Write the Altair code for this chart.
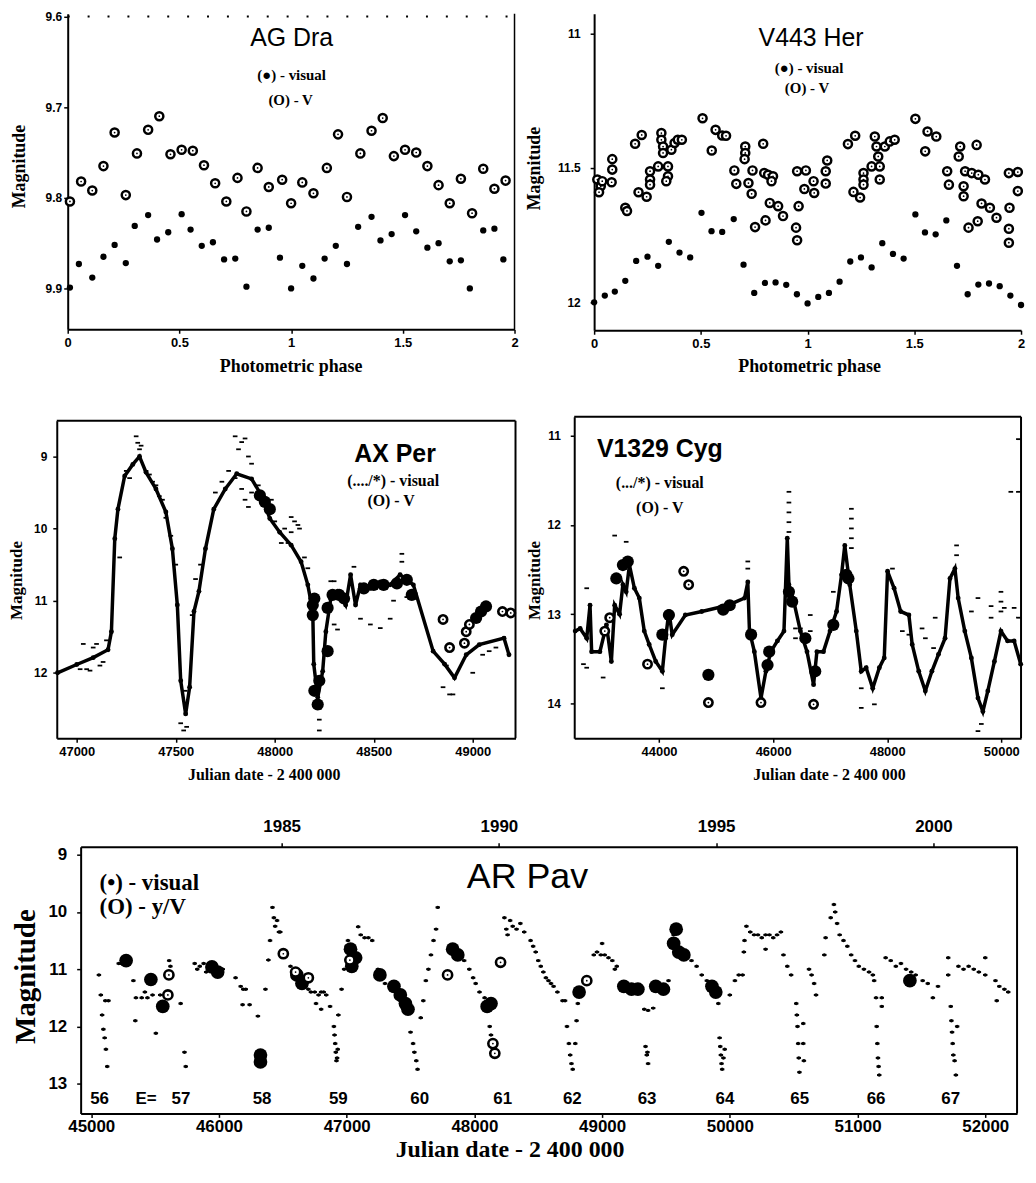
import altair as alt
import pandas as pd

BLACK = "#000000"
SANS = "Liberation Sans"
SERIF = "Liberation Serif"

# ======================= AG Dra (phase diagram) =======================
agdra_v_phase = [0.01, 0.06, 0.11, 0.16, 0.21, 0.26, 0.31, 0.36, 0.41, 0.46, 0.51, 0.56, 0.61, 0.66, 0.71, 0.76, 0.80, 0.85, 0.90, 0.96,
                 1.00, 1.05, 1.10, 1.16, 1.21, 1.25, 1.31, 1.36, 1.41, 1.46, 1.51, 1.56, 1.61, 1.66, 1.71, 1.76, 1.81, 1.86, 1.91, 1.96]
agdra_v_mag = [9.804, 9.782, 9.792, 9.765, 9.728, 9.797, 9.751, 9.725, 9.710, 9.752, 9.747, 9.748, 9.764, 9.784, 9.804, 9.778, 9.815, 9.767, 9.788, 9.780,
               9.806, 9.783, 9.795, 9.767, 9.730, 9.799, 9.751, 9.726, 9.712, 9.754, 9.747, 9.750, 9.765, 9.786, 9.806, 9.779, 9.817, 9.768, 9.790, 9.781]
agdra_vis_phase = [0.01, 0.05, 0.11, 0.16, 0.21, 0.26, 0.30, 0.36, 0.40, 0.45, 0.51, 0.55, 0.60, 0.65, 0.70, 0.75, 0.80, 0.85, 0.90, 0.95,
                   1.00, 1.05, 1.10, 1.15, 1.20, 1.25, 1.30, 1.36, 1.40, 1.45, 1.51, 1.56, 1.61, 1.66, 1.71, 1.76, 1.80, 1.86, 1.91, 1.95]
agdra_vis_mag = [9.899, 9.873, 9.888, 9.865, 9.852, 9.872, 9.831, 9.819, 9.846, 9.838, 9.818, 9.835, 9.853, 9.849, 9.868, 9.867, 9.898, 9.835, 9.833, 9.866,
                 9.900, 9.875, 9.889, 9.867, 9.853, 9.873, 9.832, 9.821, 9.847, 9.840, 9.819, 9.837, 9.855, 9.850, 9.870, 9.869, 9.900, 9.836, 9.834, 9.868]

# ======================= V443 Her (phase diagram) =======================
v443_v = [(0.015, 11.543), (0.031, 11.568), (0.023, 11.590), (0.038, 11.549), (0.085, 11.467), (0.085, 11.506), (0.082, 11.553),
          (0.146, 11.648), (0.154, 11.660), (0.192, 11.410), (0.223, 11.377), (0.208, 11.590), (0.246, 11.607), (0.262, 11.512),
          (0.262, 11.543), (0.262, 11.562), (0.300, 11.494), (0.315, 11.370), (0.315, 11.395), (0.323, 11.420), (0.323, 11.444),
          (0.346, 11.494), (0.346, 11.531), (0.338, 11.549), (0.362, 11.432), (0.377, 11.407), (0.392, 11.395), (0.411, 11.395),
          (0.508, 11.315), (0.551, 11.435), (0.569, 11.358), (0.600, 11.379), (0.618, 11.380), (0.657, 11.509), (0.666, 11.559),
          (0.708, 11.420), (0.708, 11.444), (0.705, 11.467), (0.723, 11.556), (0.742, 11.509), (0.738, 11.596), (0.754, 11.720),
          (0.792, 11.410), (0.797, 11.519), (0.815, 11.525), (0.838, 11.531), (0.803, 11.695), (0.823, 11.630), (0.862, 11.642),
          (0.885, 11.679), (0.831, 11.549), (0.951, 11.512), (0.992, 11.509), (0.958, 11.642), (0.946, 11.722), (0.951, 11.769),
          (0.985, 11.578), (1.031, 11.593), (1.028, 11.549), (1.085, 11.558), (1.085, 11.512), (1.092, 11.472),
          (1.189, 11.411), (1.223, 11.380), (1.215, 11.589), (1.246, 11.610), (1.262, 11.519), (1.262, 11.543), (1.262, 11.562),
          (1.300, 11.494), (1.315, 11.383), (1.323, 11.420), (1.331, 11.457), (1.338, 11.494), (1.338, 11.543), (1.362, 11.420),
          (1.385, 11.401), (1.408, 11.395), (1.505, 11.317), (1.551, 11.438), (1.562, 11.364), (1.603, 11.383), (1.654, 11.512),
          (1.662, 11.562), (1.715, 11.420), (1.708, 11.457), (1.738, 11.512), (1.731, 11.568), (1.731, 11.605), (1.754, 11.722),
          (1.792, 11.414), (1.769, 11.519), (1.800, 11.525), (1.831, 11.543), (1.815, 11.632), (1.854, 11.648), (1.797, 11.698),
          (1.885, 11.685), (1.943, 11.519), (1.985, 11.515), (1.985, 11.586), (1.946, 11.648), (1.943, 11.726), (1.943, 11.778)]
v443_vis = [(0.0, 12.0), (0.05, 11.975), (0.097, 11.96), (0.146, 11.92), (0.197, 11.846), (0.25, 11.83), (0.30, 11.864),
            (0.35, 11.775), (0.40, 11.815), (0.45, 11.833), (0.503, 11.667), (0.55, 11.735), (0.60, 11.738), (0.654, 11.69),
            (0.70, 11.86), (0.75, 11.965), (0.80, 11.928), (0.85, 11.926), (0.90, 11.935), (0.95, 11.97), (1.0, 12.004),
            (1.05, 11.98), (1.10, 11.965), (1.15, 11.923), (1.20, 11.848), (1.25, 11.833), (1.30, 11.87), (1.35, 11.78),
            (1.40, 11.82), (1.45, 11.837), (1.505, 11.673), (1.55, 11.74), (1.60, 11.747), (1.65, 11.695), (1.70, 11.864),
            (1.75, 11.97), (1.80, 11.934), (1.85, 11.93), (1.90, 11.94), (1.95, 11.975), (2.0, 12.01)]

# ======================= AX Per =======================
axper_line_jd = [46903, 47000, 47083, 47158, 47175, 47192, 47208, 47242, 47283, 47317, 47350, 47400, 47450, 47483, 47508, 47525,
                 47550, 47570, 47592, 47617, 47650, 47692, 47750, 47808, 47883, 47933, 47975, 48025, 48083, 48133, 48167, 48192,
                 48197, 48217, 48242, 48258, 48283, 48317, 48358, 48383, 48408, 48433, 48483, 48533, 48583, 48633, 48700, 48800,
                 48858, 48908, 48967, 49033, 49158, 49183]
axper_line_mag = [12.0, 11.885, 11.79, 11.68, 11.43, 10.14, 9.73, 9.27, 9.11, 9.0, 9.22, 9.45, 9.77, 10.28, 11.06, 12.11,
                  12.57, 12.2, 11.15, 10.87, 10.28, 9.73, 9.45, 9.24, 9.31, 9.54, 9.86, 10.05, 10.23, 10.46, 10.78, 11.15,
                  11.88, 12.34, 11.98, 11.43, 10.97, 10.87, 11.06, 10.64, 11.06, 10.78, 10.83, 10.74, 10.78, 10.64, 10.78, 11.70,
                  11.88, 12.07, 11.75, 11.61, 11.52, 11.75]
axper_vis = [(47017, 11.95), (47033, 11.6), (47050, 11.95), (47067, 11.97), (47083, 11.65), (47100, 11.6), (47117, 11.9),
             (47133, 11.85), (47150, 11.55), (47217, 10.4), (47250, 9.2), (47267, 9.3), (47300, 8.72), (47308, 8.81),
             (47317, 8.9), (47325, 8.85), (47350, 9.2), (47367, 9.25), (47383, 9.35), (47400, 9.4), (47417, 9.55),
             (47433, 9.6), (47450, 9.85), (47475, 10.1), (47500, 10.5), (47525, 12.7), (47540, 12.8), (47555, 12.75),
             (47548, 12.25), (47600, 10.7), (47583, 11.2), (47625, 10.5), (47700, 9.5), (47733, 9.35), (47767, 9.2),
             (47800, 8.72), (47817, 8.9), (47833, 8.8), (47850, 8.75), (47867, 9.0), (47883, 9.1), (47800, 9.3),
             (47833, 9.45), (47850, 9.6), (47867, 9.7), (47883, 9.5), (47917, 9.4), (47983, 9.6), (47983, 9.77),
             (48000, 9.9), (48050, 10.0), (48083, 9.84), (48100, 9.9), (48117, 9.95), (48125, 10.0), (48083, 10.05),
             (48033, 10.2), (48067, 10.2), (48150, 10.4), (48167, 10.55), (48225, 12.5), (48225, 12.65), (48225, 12.8),
             (48283, 10.73), (48300, 10.73), (48300, 11.33), (48317, 11.4), (48400, 10.53), (48433, 11.25), (48483, 11.33),
             (48533, 11.38), (48583, 11.25), (48642, 10.35), (48642, 10.46), (48600, 11.0), (48667, 10.95), (48850, 12.2),
             (48883, 12.3), (48900, 12.3), (48867, 11.9), (49050, 11.75), (49083, 11.7), (49000, 12.0), (49117, 11.65)]
axper_v_blob = [(47925, 9.54), (47950, 9.63), (47975, 9.73), (48192, 11.06), (48192, 11.2), (48200, 10.97), (48200, 12.25),
                (48217, 12.44), (48225, 12.11), (48267, 11.70), (48267, 11.1), (48292, 10.92), (48325, 10.92), (48350, 10.97),
                (48450, 10.83), (48500, 10.78), (48550, 10.78), (48617, 10.76), (48667, 10.71), (48692, 10.92),
                (49017, 11.24), (49042, 11.15), (49067, 11.08)]
axper_v_open = [(48850, 11.26), (48883, 11.65), (48958, 11.59), (48967, 11.43), (48983, 11.33), (49150, 11.15), (49192, 11.17)]

# ======================= V1329 Cyg =======================
v1329_line_jd = [42530, 42617, 42732, 42790, 42818, 42963, 43078, 43164, 43222, 43308,
                 43366, 43424, 43481, 43568, 43654, 43741, 43827, 43942, 44058, 44115,
                 44173, 44231, 44461, 44749, 45210, 45499, 45556, 45585, 45671, 45787,
                 45873, 45960, 46075, 46190, 46248, 46277, 46363, 46478, 46594, 46709,
                 46767, 46882, 46997, 47112, 47199, 47256, 47343, 47458, 47545, 47631,
                 47746, 47862, 47948, 48006, 48121, 48236, 48380, 48438, 48553, 48668,
                 48783, 48899, 49014, 49100, 49187, 49244, 49360, 49475, 49591, 49677,
                 49764, 49879, 49994, 50110, 50225, 50340]
v1329_line_mag = [13.19, 13.16, 13.27, 12.9, 13.42, 13.42, 13.12, 13.53, 12.90, 13.0,
                  12.67, 12.75, 12.45, 12.71, 12.82, 13.19, 13.34, 13.53, 13.64, 13.27,
                  12.97, 13.23, 13.01, 12.97, 12.9, 12.82, 12.64, 13.19, 13.42, 13.94,
                  13.64, 13.42, 13.30, 13.19, 12.15, 12.67, 12.86, 13.19, 13.42, 13.79,
                  13.42, 13.42, 13.19, 12.97, 12.56, 12.23, 12.67, 13.19, 13.64, 13.60,
                  13.83, 13.60, 13.49, 12.52, 12.71, 12.97, 13.01, 13.34, 13.64, 13.86,
                  13.64, 13.45, 13.27, 12.60, 12.49, 12.82, 13.19, 13.49, 13.94, 14.09,
                  13.86, 13.53, 13.19, 13.30, 13.30, 13.56]
v1329_vis = [(46277, 11.63), (46277, 11.75), (46277, 11.86), (46277, 11.97), (46277, 12.08),
             (47372, 11.82), (47372, 11.93), (47372, 12.04), (47372, 12.15), (47372, 12.26),
             (49216, 12.23), (49216, 12.34), (45556, 12.41), (45556, 12.49), (42732, 12.71),
             (49994, 12.75), (49994, 12.86), (49994, 12.97), (49591, 14.31), (49650, 14.23),
             (50052, 12.93), (50225, 12.93), (50300, 13.04), (50300, 11.63), (50167, 11.63), (50300, 11.04),
             (46392, 13.16), (46392, 13.27), (46478, 13.16), (46651, 13.01), (46651, 13.19), (47055, 12.75),
             (48841, 13.04), (48813, 13.38), (49476, 12.97), (49591, 12.82), (48611, 13.16), (48669, 13.27),
             (47545, 13.83), (47545, 14.05), (47775, 14.01), (44058, 13.83), (43020, 13.71), (42675, 13.56),
             (42732, 13.60), (43424, 12.19), (43222, 12.12), (49821, 12.91), (49821, 13.04), (48265, 13.19),
             (48380, 13.23), (48092, 12.49)]
v1329_v_blob = [(43251, 12.60), (43366, 12.45), (43452, 12.41), (44058, 13.23), (44173, 13.01), (45124, 12.95),
                (45239, 12.90), (45614, 13.23), (45902, 13.57), (45931, 13.42), (46277, 12.75), (46334, 12.86),
                (46565, 13.27), (46738, 13.64), (47055, 13.12), (47285, 12.56), (47320, 12.60), (44865, 13.68)]
v1329_v_open = [(44432, 12.52), (44519, 12.67), (43798, 13.56), (44865, 13.99), (45787, 13.99), (46709, 14.01),
                (43049, 13.19), (43135, 13.04)]

# ======================= AR Pav =======================
arpav_vis = [(45060, 11.1), (45075, 11.45), (45085, 11.8), (45095, 12.05), (45105, 12.2), (45115, 12.4), (45125, 12.7),
             (45135, 11.55), (45110, 11.55), (45215, 10.9), (45235, 10.9), (45255, 10.85), (45330, 11.2), (45350, 11.5),
             (45345, 11.9), (45395, 11.5), (45420, 11.4), (45440, 11.5), (45506, 12.12), (45480, 11.45), (45540, 11.45),
             (45610, 10.85), (45620, 10.95), (45700, 11.6), (45730, 12.45), (45740, 12.7),
             (45810, 10.9), (45830, 11.0), (45850, 10.95), (45880, 10.9), (45900, 11.05), (45920, 10.95), (46010, 11.1),
             (46030, 11.0), (46130, 11.15), (46170, 11.3), (46190, 11.35), (46210, 11.35), (46185, 11.62), (46240, 11.62),
             (46305, 11.82), (46364, 11.35), (46387, 10.84), (46400, 10.5), (46419, 9.92), (46430, 10.1), (46440, 10.25),
             (46455, 10.15), (46470, 10.35), (46480, 10.35), (46560, 10.95), (46590, 11.0), (46620, 11.1), (46650, 11.2),
             (46680, 11.3), (46700, 11.35), (46720, 11.4), (46750, 11.4), (46780, 11.45), (46800, 11.4), (46820, 11.4),
             (46840, 11.45), (46760, 11.6), (46800, 11.7), (46870, 11.65), (46900, 12.0), (46905, 12.15), (46910, 12.3),
             (46915, 12.45), (46920, 12.6), (46925, 12.55), (46930, 12.4), (46935, 11.8), (46960, 11.35), (46980, 11.0),
             (47000, 10.6), (47010, 10.5), (47090, 10.26), (47110, 10.4), (47140, 10.45), (47170, 10.45), (47200, 10.5),
             (47245, 11.0), (47265, 11.15), (47300, 11.25), (47350, 11.3), (47400, 11.45), (47420, 11.55), (47450, 11.6),
             (47500, 12.1), (47520, 12.3), (47530, 12.45), (47545, 12.6), (47555, 12.75), (47580, 11.85), (47600, 11.55),
             (47620, 11.2), (47640, 11.0), (47660, 10.75), (47680, 10.5), (47700, 10.3), (47713, 9.92), (47920, 10.85),
             (47960, 11.0), (47990, 11.15), (48010, 11.25), (48040, 11.4), (48080, 11.5), (48120, 12.0), (48130, 12.15),
             (48140, 12.3), (48235, 10.1), (48250, 10.3), (48260, 10.4), (48280, 10.15), (48300, 10.25), (48330, 10.3),
             (48360, 10.2), (48390, 10.35), (48440, 10.5), (48460, 10.6), (48480, 10.7), (48500, 10.85), (48520, 10.95),
             (48540, 11.05), (48560, 11.15), (48580, 11.2), (48600, 11.25), (48620, 11.3), (48650, 11.4), (48690, 11.55),
             (48710, 11.55), (48725, 12.0), (48740, 12.3), (48750, 12.5), (48760, 12.65), (48770, 12.75), (48790, 12.3),
             (48800, 11.9), (48810, 11.6), (48935, 10.75), (48960, 10.7), (48990, 10.75), (49020, 10.75), (49050, 10.8),
             (49080, 10.85), (49000, 10.55), (49100, 11.0), (49115, 10.95), (49160, 11.25), (49200, 11.3), (49240, 11.35),
             (49280, 11.3), (49330, 11.7), (49360, 11.72), (49400, 11.68), (49340, 12.35), (49350, 12.5), (49360, 12.65),
             (49355, 12.45), (49400, 11.3), (49440, 11.35), (49480, 11.3), (49520, 11.2), (49540, 10.6), (49560, 10.4),
             (49660, 10.7), (49700, 10.85), (49740, 10.95), (49780, 11.1), (49820, 11.2), (49860, 11.3), (49900, 11.45),
             (49910, 11.6), (49920, 12.2), (49925, 12.35), (49930, 12.5), (49935, 12.65), (49940, 12.75), (49950, 12.55),
             (49960, 12.4), (50000, 11.45), (50040, 11.2), (50070, 11.1), (50100, 11.1), (50110, 10.7), (50115, 10.5),
             (50130, 10.25), (50160, 10.35), (50190, 10.4), (50220, 10.4), (50250, 10.45), (50280, 10.4), (50310, 10.4),
             (50340, 10.45), (50370, 10.4), (50400, 10.35), (50280, 10.65), (50420, 10.75), (50450, 10.95), (50480, 11.1),
             (50520, 11.6), (50525, 11.8), (50530, 12.0), (50535, 12.3), (50540, 12.55), (50545, 12.8), (50575, 11.95),
             (50575, 12.3), (50580, 12.6), (50620, 11.0), (50640, 11.1), (50660, 11.25), (50675, 11.45), (50740, 10.75),
             (50750, 10.45), (50790, 10.1), (50815, 9.87), (50825, 10.0), (50840, 10.2), (50860, 10.4), (50890, 10.5),
             (50920, 10.6), (50950, 10.75), (50980, 10.85), (51010, 10.95), (51050, 11.0), (51090, 11.05), (51120, 11.1),
             (51130, 11.2), (51145, 11.5), (51150, 12.0), (51155, 12.3), (51160, 12.55), (51165, 12.7), (51170, 12.85),
             (51190, 11.5), (51190, 11.65), (51220, 10.8), (51260, 10.85), (51300, 10.95), (51340, 10.9), (51380, 11.0),
             (51420, 11.05), (51455, 11.1), (51510, 11.2), (51550, 11.25), (51590, 11.5), (51630, 11.3), (51710, 10.8),
             (51710, 11.1), (51730, 11.65), (51735, 11.9), (51740, 12.1), (51745, 12.3), (51750, 12.5), (51760, 12.6),
             (51770, 12.85), (51780, 12.0), (51790, 10.95), (51830, 11.0), (51870, 10.95), (51910, 11.0), (51950, 11.05),
             (52000, 10.8), (52000, 11.1), (52080, 11.2), (52110, 11.3), (52150, 11.35), (52180, 11.4), (52090, 11.55)]
arpav_v_blob = [(45273, 10.85), (45467, 11.18), (45560, 11.65), (45945, 10.96), (45990, 11.05), (46325, 12.5), (46325, 12.62),
                (46610, 11.1), (46650, 11.25), (47040, 10.95), (47070, 10.8), (47030, 10.65), (47260, 11.1), (47370, 11.3),
                (47420, 11.45), (47460, 11.6), (47480, 11.7), (47830, 10.65), (47870, 10.75), (48100, 11.65), (48130, 11.6),
                (48820, 11.4), (49170, 11.3), (49230, 11.35), (49280, 11.35), (49420, 11.3), (49480, 11.35), (49560, 10.55),
                (49580, 10.3), (49600, 10.7), (49640, 10.75), (49860, 11.3), (49890, 11.4), (51410, 11.2)]
arpav_v_open = [(45608, 11.1), (45600, 11.45), (46504, 10.73), (47025, 10.84), (47790, 11.1), (48145, 12.3), (48160, 12.47),
                (48205, 10.88), (48880, 11.2), (46600, 11.05), (46700, 11.15)]
arpav_e_jd = [45065, 45702, 46338, 46935, 47572, 48222, 48767, 49352, 49962, 50547, 51145, 51729]
arpav_e_num = ["56", "57", "58", "59", "60", "61", "62", "63", "64", "65", "66", "67"]
arpav_years = [1985, 1990, 1995, 2000]

# ======================= layout (pixel boxes of the five panels) =======================
VIEW_W, VIEW_H = 1018, 1110
BOX1 = dict(x=(60, 509), y=(5, 322))      # AG Dra
BOX2 = dict(x=(589, 1018), y=(5, 323))    # V443 Her
BOX3 = dict(x=(49, 510), y=(414, 733))    # AX Per
BOX4 = dict(x=(569, 1018), y=(410, 733))  # V1329 Cyg
BOX5 = dict(x=(73, 1014), y=(842, 1110))  # AR Pav


# ======================= helpers =======================
def xy(pairs_or_x, y=None):
    if y is None:
        return pd.DataFrame({"x": [p[0] for p in pairs_or_x], "y": [p[1] for p in pairs_or_x]})
    return pd.DataFrame({"x": pairs_or_x, "y": y})


def common_axis(lsize, lpad, tick=4):
    return dict(grid=False, labelFont=SANS, labelFontWeight="bold", labelFontSize=lsize, labelColor=BLACK,
                labelPadding=lpad, labelOverlap=False, labelFlush=False,
                tickColor=BLACK, tickSize=tick, tickWidth=1.5, domainColor=BLACK, domainWidth=2)


def x_axis(box, values, fmt, lsize, title, tsize, title_x, title_y, lpad):
    return alt.Axis(orient="bottom", offset=-(VIEW_H - box["y"][1]), values=values, format=fmt,
                    title=title, titleFont=SERIF, titleFontWeight="bold", titleFontSize=tsize, titleColor=BLACK,
                    titleX=title_x, titleY=title_y, titleBaseline="middle", titleAlign="center",
                    **common_axis(lsize, lpad))


def y_axis(box, values, fmt, lsize, title, tsize, title_x, title_y, lpad):
    return alt.Axis(orient="left", offset=-box["x"][0], values=values, format=fmt,
                    title=title, titleFont=SERIF, titleFontWeight="bold", titleFontSize=tsize, titleColor=BLACK,
                    titleX=title_x, titleY=title_y, titleAngle=270, titleBaseline="middle", titleAlign="center",
                    **common_axis(lsize, lpad))


def enc(box, xdom, ydom, xaxis, yaxis):
    X = alt.X("x:Q", scale=alt.Scale(domain=xdom, range=list(box["x"]), nice=False, zero=False), axis=xaxis)
    Y = alt.Y("y:Q", scale=alt.Scale(domain=ydom, range=list(box["y"]), nice=False, zero=False), axis=yaxis)
    return X, Y


def dots(data, X, Y, size):
    return alt.Chart(data).mark_circle(size=size, color=BLACK, opacity=1).encode(x=X, y=Y)


def dashes(data, X, Y, size, sw=1.8):
    return alt.Chart(data).mark_point(shape="M -1 0 L 1 0", filled=False, color=BLACK, strokeWidth=sw,
                                      size=size, opacity=1).encode(x=X, y=Y)


def rings(data, X, Y, size, sw):
    ring = alt.Chart(data).mark_point(shape="circle", filled=True, fill="white", stroke=BLACK,
                                      strokeWidth=sw, size=size, opacity=1).encode(x=X, y=Y)
    centre = alt.Chart(data).mark_circle(size=3, color=BLACK, opacity=1).encode(x=X, y=Y)
    return [ring, centre]


def label(text, px, py, size, font, weight="normal", align="center"):
    return alt.Chart(pd.DataFrame({"t": [text]})).mark_text(
        font=font, fontSize=size, fontWeight=weight, align=align, baseline="middle", color=BLACK
    ).encode(x=alt.value(px), y=alt.value(py), text="t:N")


def hline(X, Y, x0, x1, yv, width=2, dash=None):
    d = pd.DataFrame({"x": [x0], "x2": [x1], "y": [yv]})
    kw = dict(color=BLACK, strokeWidth=width)
    if dash:
        kw["strokeDash"] = dash
    return alt.Chart(d).mark_rule(**kw).encode(x=X, x2="x2:Q", y=Y)


def vline(X, Y, xv, y0, y1, width=2):
    d = pd.DataFrame({"x": [xv], "y": [y0], "y2": [y1]})
    return alt.Chart(d).mark_rule(color=BLACK, strokeWidth=width).encode(x=X, y=Y, y2="y2:Q")


# ======================= Panel 1: AG Dra =======================
dom1x, dom1y = [0, 2], [9.597, 9.945]
X1, Y1 = enc(BOX1, dom1x, dom1y,
             x_axis(BOX1, [0, 0.5, 1, 1.5, 2], "~g", 13, "Photometric phase", 18, 284, 37, 3.5),
             y_axis(BOX1, [9.6, 9.7, 9.8, 9.9], ".1f", 12, "Magnitude", 18, -48, 158, 2))
p1 = alt.layer(
    vline(X1, Y1, 2, dom1y[0], dom1y[1], 1.5),
    hline(X1, Y1, 0, 2, 9.6, 2, [2, 18]),
    dots(xy(agdra_vis_phase, agdra_vis_mag), X1, Y1, 40),
    *rings(xy(agdra_v_phase, agdra_v_mag), X1, Y1, 66, 2.5),
    label("AG Dra", 285, 29, 25, SANS),
    label("(●) - visual", 285, 67, 15, SERIF, "bold"),
    label("(O) - V", 284, 92, 15, SERIF, "bold"),
)

# ======================= Panel 2: V443 Her =======================
dom2x, dom2y = [0, 2], [10.926, 12.104]
X2, Y2 = enc(BOX2, dom2x, dom2y,
             x_axis(BOX2, [0, 0.5, 1, 1.5, 2], "~g", 13, "Photometric phase", 18, 805, 36, 3.5),
             y_axis(BOX2, [11, 11.5, 12], "~g", 12, "Magnitude", 18, -60, 160, 10))
p2 = alt.layer(
    dots(xy(v443_vis), X2, Y2, 40),
    *rings(xy(v443_v), X2, Y2, 66, 2.5),
    label("V443 Her", 807, 29, 25, SANS),
    label("(●) - visual", 805, 59, 15, SERIF, "bold"),
    label("(O) - V", 803, 80, 15, SERIF, "bold"),
)

# ======================= Panel 3: AX Per =======================
dom3x, dom3y = [46899, 49216], [8.505, 12.908]
X3, Y3 = enc(BOX3, dom3x, dom3y,
             x_axis(BOX3, [47000, 47500, 48000, 48500, 49000], "d", 13, "Julian date - 2 400 000", 16, 257, 36, 3.5),
             y_axis(BOX3, [9, 10, 11, 12], "d", 12, "Magnitude", 17, -40, 574, 6))
axper_line = xy(axper_line_jd, axper_line_mag)
p3 = alt.layer(
    hline(X3, Y3, dom3x[0], dom3x[1], dom3y[0]),
    vline(X3, Y3, dom3x[1], dom3y[0], dom3y[1]),
    dashes(xy(axper_vis), X3, Y3, 22),
    alt.Chart(axper_line).mark_line(color=BLACK, strokeWidth=3.5).encode(x=X3, y=Y3),
    dots(axper_line, X3, Y3, 24),
    dots(xy(axper_v_blob), X3, Y3, 150),
    *rings(xy(axper_v_open), X3, Y3, 70, 2.6),
    label("AX Per", 389, 447, 25, SANS, "bold"),
    label("(..../*) - visual", 387, 475, 16, SERIF, "bold"),
    label("(O) - V", 385, 495, 16, SERIF, "bold"),
)

# ======================= Panel 4: V1329 Cyg =======================
dom4x, dom4y = [42513, 50346], [10.79, 14.39]
X4, Y4 = enc(BOX4, dom4x, dom4y,
             x_axis(BOX4, [44000, 46000, 48000, 50000], "d", 13, "Julian date - 2 400 000", 16, 825, 36, 3.5),
             y_axis(BOX4, [11, 12, 13, 14], "d", 12, "Magnitude", 17, -40, 574, 10))
v1329_line = xy(v1329_line_jd, v1329_line_mag)
p4 = alt.layer(
    hline(X4, Y4, dom4x[0], dom4x[1], dom4y[0]),
    vline(X4, Y4, dom4x[1], dom4y[0], dom4y[1]),
    dashes(xy(v1329_vis), X4, Y4, 22),
    alt.Chart(v1329_line).mark_line(color=BLACK, strokeWidth=3.5).encode(x=X4, y=Y4),
    dots(v1329_line, X4, Y4, 24),
    dots(xy(v1329_v_blob), X4, Y4, 150),
    *rings(xy(v1329_v_open), X4, Y4, 70, 2.6),
    label("V1329 Cyg", 655, 442, 25, SANS, "bold"),
    label("(.../*) - visual", 655, 477, 16, SERIF, "bold"),
    label("(O) - V", 655, 502, 16, SERIF, "bold"),
)

# ======================= Panel 5: AR Pav =======================
dom5x, dom5y = [44917, 52249], [8.86, 13.52]
X5, Y5 = enc(BOX5, dom5x, dom5y,
             x_axis(BOX5, [45000, 46000, 47000, 48000, 49000, 50000, 51000, 52000], "d", 17,
                    "Julian date - 2 400 000", 24, 504, 36, 1.5),
             y_axis(BOX5, [9, 10, 11, 12, 13], "d", 17, "Magnitude", 29, -55, 972, 10))
XT = alt.X("yr:Q", scale=alt.Scale(domain=[1980.374, 2001.924], range=list(BOX5["x"]), nice=False, zero=False),
           axis=alt.Axis(orient="top", offset=-BOX5["y"][0], values=arpav_years, format="d", title=None,
                         **common_axis(17, 7)))
e_df = pd.DataFrame({"x": arpav_e_jd, "y": [13.26] * len(arpav_e_jd), "t": arpav_e_num})
e_lab = pd.DataFrame({"x": [45429], "y": [13.26], "t": ["E="]})
jd_layers = alt.layer(
    vline(X5, Y5, dom5x[1], dom5y[0], dom5y[1]),
    dashes(xy(arpav_vis), X5, Y5, 20, 2.0),
    dots(xy(arpav_vis), X5, Y5, 12),
    dots(xy(arpav_v_blob), X5, Y5, 190),
    *rings(xy(arpav_v_open), X5, Y5, 85, 2.6),
    alt.Chart(e_df).mark_text(font=SANS, fontWeight="bold", fontSize=17, color=BLACK, baseline="middle").encode(
        x=X5, y=Y5, text="t:N"),
    alt.Chart(e_lab).mark_text(font=SANS, fontWeight="bold", fontSize=17, color=BLACK, baseline="middle").encode(
        x=X5, y=Y5, text="t:N"),
    label("AR Pav", 522, 872, 36, SANS),
    label("(•) - visual", 92, 878, 23, SERIF, "bold", "left"),
    label("(O) - y/V", 92, 903, 23, SERIF, "bold", "left"),
)
year_layer = alt.Chart(pd.DataFrame({"yr": arpav_years})).mark_point(opacity=0).encode(
    x=XT, y=alt.value(BOX5["y"][0]))
p5 = alt.layer(jd_layers, year_layer).resolve_scale(x="independent")

chart = alt.layer(p1, p2, p3, p4, p5).resolve_scale(x="independent", y="independent").properties(
    width=VIEW_W, height=VIEW_H, padding={"left": 0, "top": -2, "right": 0, "bottom": 0}
).configure(background="white", font=SANS, view=alt.ViewConfig(stroke="transparent"))

chart.save("out.html", embed_options={"renderer": "svg", "actions": False})
